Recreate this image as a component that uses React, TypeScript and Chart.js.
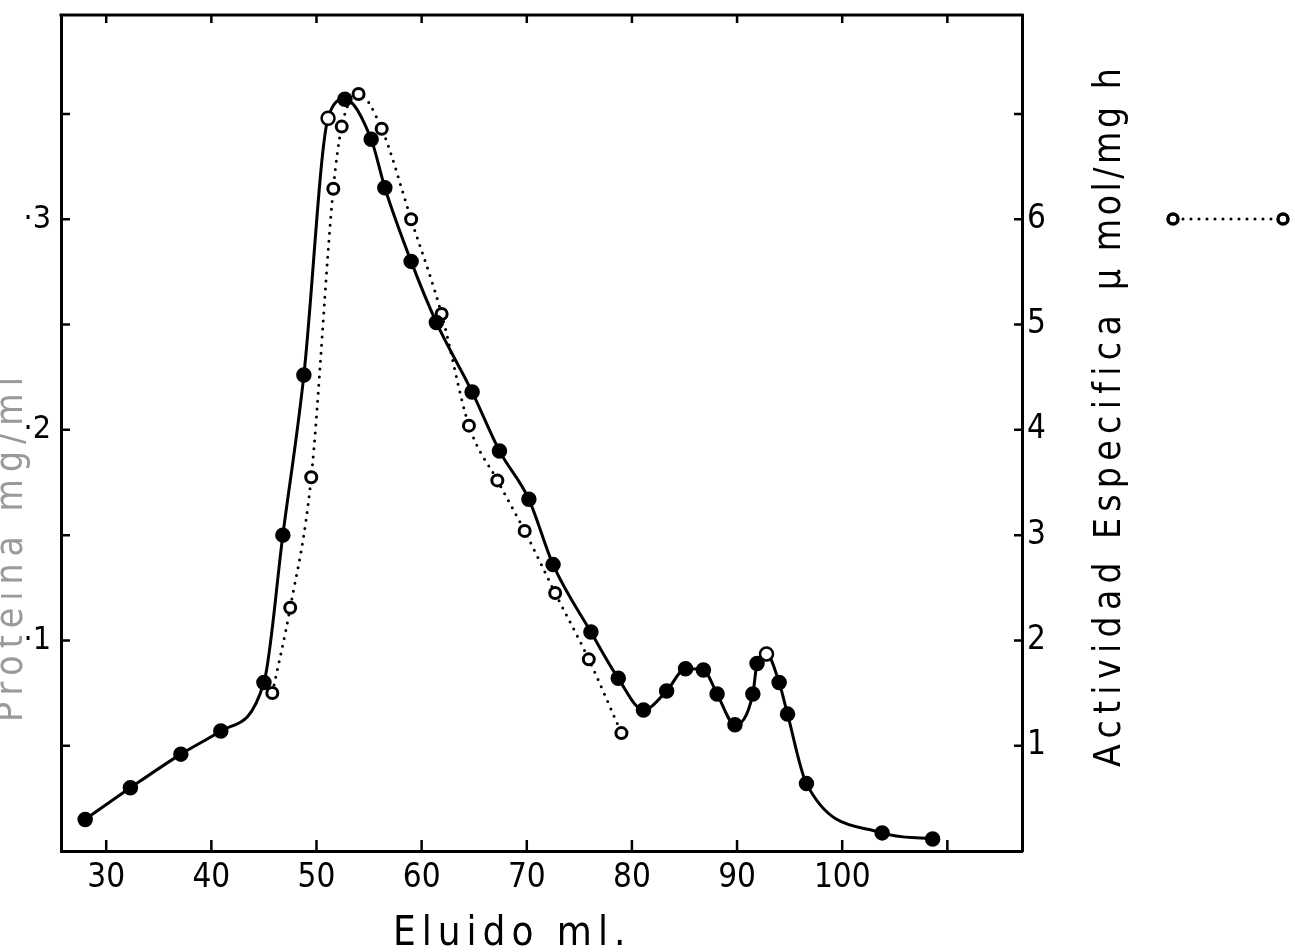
import { useEffect, useRef } from "react";
import { Chart, registerables } from "chart.js";

Chart.register(...registerables);

// Protein (filled circles, solid line) — left axis, mg/ml
const proteinX = [28.0, 32.3, 37.1, 40.9, 45.0, 46.8, 48.8, 51.1, 52.7, 55.2, 56.5, 59.0, 61.4, 64.8, 67.4, 70.2, 72.5, 76.1, 78.7, 81.1, 83.3, 85.1, 86.8, 88.1, 89.8, 91.5, 91.9, 92.8, 94.0, 94.8, 96.6, 103.8, 108.6];
const proteinY = [0.015, 0.030, 0.046, 0.057, 0.080, 0.150, 0.226, 0.348, 0.357, 0.338, 0.315, 0.280, 0.251, 0.218, 0.190, 0.167, 0.136, 0.104, 0.082, 0.067, 0.076, 0.0865, 0.086, 0.0746, 0.060, 0.0746, 0.089, 0.0936, 0.080, 0.065, 0.032, 0.0086, 0.0057];

// Specific activity (open circles, dotted line) — right axis
const activityX = [45.8, 47.5, 49.5, 51.6, 52.4, 54.0, 56.2, 59.0, 61.9, 64.5, 67.2, 69.8, 72.7, 75.9, 79.0];
const activityY = [1.50, 2.31, 3.55, 6.29, 6.88, 7.19, 6.86, 6.00, 5.10, 4.04, 3.52, 3.04, 2.45, 1.82, 1.12];

const xTicks = [30, 40, 50, 60, 70, 80, 90, 100, 110];
const xTickLabels = ["30", "40", "50", "60", "70", "80", "90", "100", ""];
const yTicks = [0.05, 0.1, 0.15, 0.2, 0.25, 0.3, 0.35];
const yTickLabels = ["", "·1", "", "·2", "", "·3", ""];
const y1Ticks = [1, 2, 3, 4, 5, 6, 7];
const y1TickLabels = ["1", "2", "3", "4", "5", "6", ""];

const xTitle = "Eluido ml.";
const yTitle = "Proteina mg/ml";
const y1Title = "Actividad Especifica";
const y1Unit = "µ mol/mg h";

const FONT = "'DejaVu Sans Condensed', 'DejaVu Sans', sans-serif";

function labelFor(ticks: number[], labels: string[], v: number) {
  for (let i = 0; i < ticks.length; i++) {
    if (Math.abs(ticks[i] - v) < 1e-9) return labels[i];
  }
  return "";
}

const framePlugin = {
  id: "framePlugin",
  afterDraw(chart: any) {
    const ctx = chart.ctx as CanvasRenderingContext2D;
    const { left, right, top, bottom } = chart.chartArea;
    const xs = chart.scales.x;
    const ys = chart.scales.y;
    const y1s = chart.scales.y1;
    ctx.save();
    ctx.strokeStyle = "#000";
    ctx.lineCap = "butt";
    // top border
    ctx.lineWidth = 3;
    ctx.beginPath();
    ctx.moveTo(left - 1.5, top);
    ctx.lineTo(right + 1.5, top);
    ctx.stroke();
    // inner ticks
    ctx.lineWidth = 2.5;
    ctx.beginPath();
    xTicks.forEach((v) => {
      const px = xs.getPixelForValue(v);
      ctx.moveTo(px, bottom);
      ctx.lineTo(px, bottom - 11);
      ctx.moveTo(px, top);
      ctx.lineTo(px, top + 8);
    });
    yTicks.forEach((v) => {
      const py = ys.getPixelForValue(v);
      ctx.moveTo(left, py);
      ctx.lineTo(left + 9, py);
    });
    y1Ticks.forEach((v) => {
      const py = y1s.getPixelForValue(v);
      ctx.moveTo(right, py);
      ctx.lineTo(right - 8, py);
    });
    ctx.stroke();

    // axis titles
    ctx.fillStyle = "#000";
    ctx.font = `40px ${FONT}`;
    (ctx as any).letterSpacing = "6px";
    ctx.textAlign = "left";
    ctx.textBaseline = "alphabetic";
    ctx.fillText(xTitle, 393, 945);

    ctx.font = `37px ${FONT}`;
    (ctx as any).letterSpacing = "6.3px";
    ctx.save();
    ctx.translate(1120, 767);
    ctx.rotate(-Math.PI / 2);
    ctx.fillText(y1Title, 0, 0);
    ctx.restore();

    (ctx as any).letterSpacing = "3.5px";
    ctx.save();
    ctx.translate(1120, 290);
    ctx.rotate(-Math.PI / 2);
    ctx.fillText(y1Unit, 0, 0);
    ctx.restore();

    (ctx as any).letterSpacing = "7px";
    ctx.save();
    ctx.fillStyle = "#9a9a9a";
    ctx.translate(22, 722);
    ctx.rotate(-Math.PI / 2);
    ctx.fillText(yTitle, 0, 0);
    ctx.restore();
    (ctx as any).letterSpacing = "0px";

    // legend for activity series
    const ly = 219;
    const lx1 = 1173;
    const lx2 = 1283;
    ctx.lineWidth = 3;
    ctx.lineCap = "round";
    ctx.setLineDash([0, 8]);
    ctx.beginPath();
    ctx.moveTo(lx1 + 10, ly);
    ctx.lineTo(lx2 - 7, ly);
    ctx.stroke();
    ctx.setLineDash([]);
    [lx1, lx2].forEach((cx) => {
      ctx.beginPath();
      ctx.arc(cx, ly, 5, 0, Math.PI * 2);
      ctx.fillStyle = "#fff";
      ctx.fill();
      ctx.lineWidth = 3.5;
      ctx.stroke();
    });
    ctx.restore();
  },
};

export default function App() {
  const ref = useRef<HTMLCanvasElement | null>(null);

  useEffect(() => {
    if (!ref.current) return;
    const proteinFill = proteinX.map((x) => (x === 51.1 || x === 92.8 ? "#fff" : "#000"));
    const chart = new Chart(ref.current, {
      type: "scatter",
      data: {
        datasets: [
          {
            label: "Proteina",
            data: proteinX.map((x, i) => ({ x, y: proteinY[i] })),
            yAxisID: "y",
            showLine: true,
            borderColor: "#000",
            borderWidth: 3,
            cubicInterpolationMode: "monotone",
            pointRadius: 6.5,
            pointBackgroundColor: proteinFill,
            pointBorderColor: "#000",
            pointBorderWidth: 2.5,
          },
          {
            label: "Actividad",
            data: activityX.map((x, i) => ({ x, y: activityY[i] })),
            yAxisID: "y1",
            showLine: true,
            borderColor: "#000",
            borderWidth: 3,
            borderDash: [0, 8],
            borderCapStyle: "round",
            cubicInterpolationMode: "monotone",
            pointRadius: 5.5,
            pointBackgroundColor: "#fff",
            pointBorderColor: "#000",
            pointBorderWidth: 3,
          },
        ],
      },
      options: {
        animation: false,
        responsive: false,
        devicePixelRatio: 1,
        layout: { padding: { top: 15, left: 0, right: 0, bottom: 0 } },
        plugins: { legend: { display: false }, tooltip: { enabled: false } },
        scales: {
          x: {
            type: "linear",
            position: "bottom",
            min: 25.7,
            max: 117.1,
            grid: { display: false, drawTicks: false },
            border: { display: true, color: "#000", width: 3 },
            afterBuildTicks: (s: any) => {
              s.ticks = xTicks.map((v) => ({ value: v }));
            },
            afterFit: (s: any) => {
              s.height = 101;
              s.paddingLeft = 0;
              s.paddingRight = 0;
            },
            ticks: {
              autoSkip: false,
              maxRotation: 0,
              padding: 8,
              color: "#000",
              font: { family: FONT, size: 33 },
              callback: (v: any) => labelFor(xTicks, xTickLabels, Number(v)),
            },
          },
          y: {
            type: "linear",
            position: "left",
            min: 0,
            max: 0.397,
            grid: { display: false, drawTicks: false },
            border: { display: true, color: "#000", width: 3 },
            afterBuildTicks: (s: any) => {
              s.ticks = yTicks.map((v) => ({ value: v }));
            },
            afterFit: (s: any) => {
              s.width = 61;
              s.paddingTop = 0;
              s.paddingBottom = 0;
            },
            ticks: {
              autoSkip: false,
              padding: 10,
              color: "#000",
              font: { family: FONT, size: 32 },
              callback: (v: any) => labelFor(yTicks, yTickLabels, Number(v)),
            },
          },
          y1: {
            type: "linear",
            position: "right",
            min: 0,
            max: 7.94,
            grid: { display: false, drawTicks: false },
            border: { display: true, color: "#000", width: 3 },
            afterBuildTicks: (s: any) => {
              s.ticks = y1Ticks.map((v) => ({ value: v }));
            },
            afterFit: (s: any) => {
              s.width = 273;
              s.paddingTop = 0;
              s.paddingBottom = 0;
            },
            ticks: {
              autoSkip: false,
              padding: 5,
              color: "#000",
              font: { family: FONT, size: 33 },
              callback: (v: any) => labelFor(y1Ticks, y1TickLabels, Number(v)),
            },
          },
        },
      },
      plugins: [framePlugin],
    } as any);
    return () => chart.destroy();
  }, []);

  return (
    <div style={{ position: "absolute", left: 0, top: 0, width: 1295, height: 952, background: "#fff" }}>
      <canvas ref={ref} width={1295} height={952} style={{ display: "block" }} />
    </div>
  );
}
